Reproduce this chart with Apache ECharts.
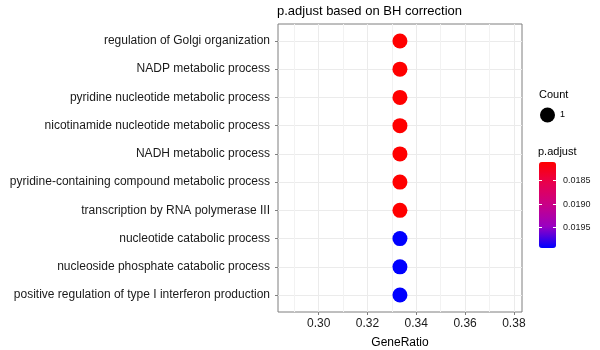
<!DOCTYPE html>
<html>
<head>
<meta charset="UTF-8">
<title>p.adjust dotplot</title>
<script src="https://cdn.jsdelivr.net/npm/echarts@6/dist/echarts.min.js"></script>
<style>
    html, body { margin: 0; padding: 0; background: #fff; }
    #chart { width: 600px; height: 350px; }
</style>
</head>
<body>
<div id="chart"></div>
<script type="text/javascript">
    // 数据
    let terms = [
        'regulation of Golgi organization',
        'NADP metabolic process',
        'pyridine nucleotide metabolic process',
        'nicotinamide nucleotide metabolic process',
        'NADH metabolic process',
        'pyridine-containing compound metabolic process',
        'transcription by RNA polymerase III',
        'nucleotide catabolic process',
        'nucleoside phosphate catabolic process',
        'positive regulation of type I interferon production'
    ];
    let geneRatio = [0.3333, 0.3333, 0.3333, 0.3333, 0.3333, 0.3333, 0.3333, 0.3333, 0.3333, 0.3333];
    let pAdjust = [0.01811, 0.01811, 0.01811, 0.01811, 0.01811, 0.01811, 0.01811, 0.01993, 0.01993, 0.01993];
    let counts = [1, 1, 1, 1, 1, 1, 1, 1, 1, 1];

    let xMajor = [0.30, 0.32, 0.34, 0.36, 0.38];
    let xMinor = [0.29, 0.31, 0.33, 0.35, 0.37];
    let barTicks = [0.0185, 0.0190, 0.0195];

    let font = 'Liberation Sans';
    let pMin = Math.min(...pAdjust);
    let pMax = Math.max(...pAdjust);

    let pts = [];
    for (let i = 0; i < terms.length; i++) {
        pts.push([geneRatio[i], i, pAdjust[i], counts[i]]);
    }
    let rowIdx = terms.map(function (t, i) { return i; });

    let chart = echarts.init(document.getElementById('chart'));
    let option = {
        backgroundColor: '#fff',
        animation: false,
        textStyle: {fontFamily: font},
        title: [
            {
                text: 'p.adjust based on BH correction',
                left: 277, top: 5, padding: 0,
                textStyle: {fontSize: 13, fontWeight: 'normal', color: '#000', fontFamily: font}
            },
            {
                text: 'Count',
                left: 539, top: 89, padding: 0,
                textStyle: {fontSize: 11, fontWeight: 'normal', color: '#000', fontFamily: font}
            },
            {
                text: 'p.adjust',
                left: 538, top: 146, padding: 0,
                textStyle: {fontSize: 11, fontWeight: 'normal', color: '#000', fontFamily: font}
            }
        ],
        legend: {
            data: [{name: '1', icon: 'circle', itemStyle: {color: '#000', opacity: 1}}],
            left: 540, top: 107.5, padding: 0,
            itemWidth: 15, itemHeight: 15, itemGap: 5,
            selectedMode: false,
            textStyle: {fontSize: 9, color: '#000', fontFamily: font}
        },
        visualMap: {
            type: 'continuous',
            min: pMin, max: pMax,
            dimension: 2,
            seriesIndex: 0,
            inverse: true,
            calculable: false,
            text: null,
            left: 539, top: 162, padding: 0,
            itemWidth: 17, itemHeight: 86,
            inRange: {color: ['#FF0000', '#E70050', '#C80088', '#9900C2', '#0000FF']}
        },
        grid: [
            {left: 278, top: 24, width: 244, height: 288, show: true, outerBoundsMode: 'none',
                backgroundColor: '#fff', borderColor: '#7f7f7f', borderWidth: 1},
            {left: 539, top: 162, width: 17, height: 86, outerBoundsMode: 'none'}
        ],
        xAxis: [
            {
                type: 'value', gridIndex: 0, position: 'bottom',
                min: 0.28333, max: 0.38333,
                name: 'GeneRatio', nameLocation: 'middle', nameGap: 25,
                nameTextStyle: {fontSize: 12, color: '#000', fontFamily: font},
                axisLine: {show: false, onZero: false},
                axisTick: {show: true, length: 3, lineStyle: {color: '#7f7f7f'}, customValues: xMajor},
                axisLabel: {fontSize: 12, color: '#1a1a1a', margin: 6, customValues: xMajor,
                    formatter: function (v) { return v.toFixed(2); }},
                splitLine: {show: true, lineStyle: {color: '#ebebeb', width: 1}}
            },
            {
                type: 'value', gridIndex: 0, position: 'top',
                min: 0.28333, max: 0.38333,
                axisLine: {show: false, onZero: false},
                axisTick: {show: false, customValues: xMinor},
                axisLabel: {show: false},
                splitLine: {show: true, lineStyle: {color: '#f2f2f2', width: 1}}
            },
            {type: 'value', gridIndex: 1, show: false, min: 0, max: 1}
        ],
        yAxis: [
            {
                type: 'value', gridIndex: 0, position: 'left',
                min: -0.6, max: terms.length - 0.4, inverse: true,
                axisLine: {show: false, onZero: false},
                axisTick: {show: true, length: 3, lineStyle: {color: '#7f7f7f'}, customValues: rowIdx},
                axisLabel: {fontSize: 12, color: '#1a1a1a', margin: 8, customValues: rowIdx,
                    formatter: function (v) { return terms[Math.round(v)]; }},
                splitLine: {show: true, lineStyle: {color: '#ebebeb', width: 1}}
            },
            {
                type: 'value', gridIndex: 1, position: 'right',
                min: pMin, max: pMax, inverse: true, z: 10,
                axisLine: {show: false, onZero: false},
                axisTick: {show: true, inside: true, length: 3, lineStyle: {color: '#fff', width: 1}, customValues: barTicks},
                axisLabel: {fontSize: 9, color: '#1a1a1a', margin: 7, customValues: barTicks,
                    formatter: function (v) { return v.toFixed(4); }},
                splitLine: {show: false}
            },
            {
                type: 'value', gridIndex: 1, position: 'left',
                min: pMin, max: pMax, inverse: true, z: 10,
                axisLine: {show: false, onZero: false},
                axisTick: {show: true, inside: true, length: 3, lineStyle: {color: '#fff', width: 1}, customValues: barTicks},
                axisLabel: {show: false},
                splitLine: {show: false}
            }
        ],
        series: [
            {
                name: '1',
                type: 'scatter',
                xAxisIndex: 0, yAxisIndex: 0,
                symbolSize: 15,
                itemStyle: {opacity: 1},
                data: pts
            }
        ]
    };
    chart.setOption(option);
</script>
</body>
</html>
